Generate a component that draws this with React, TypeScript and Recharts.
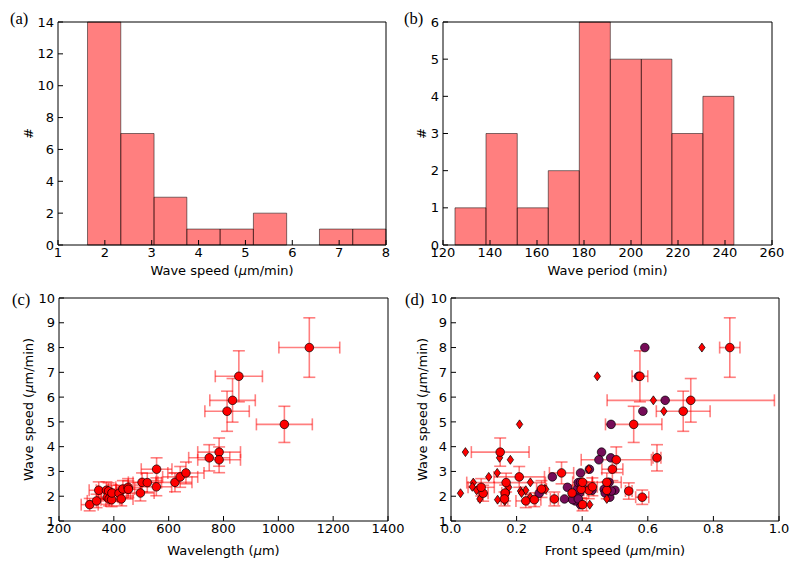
import { ComposedChart, Scatter, XAxis, YAxis, ReferenceArea, ErrorBar } from "recharts";

// (a) histogram of wave speed
const speedEdges = [1.63, 2.34, 3.05, 3.75, 4.46, 5.17, 5.88, 6.58, 7.29, 8.0];
const speedCounts = [14, 7, 3, 1, 1, 2, 0, 1, 1];
const speedHistTicksX = [1, 2, 3, 4, 5, 6, 7, 8];
const speedHistTicksY = [0, 2, 4, 6, 8, 10, 12, 14];

// (b) histogram of wave period
const periodEdges = [125.1, 138.3, 151.6, 164.8, 178.0, 191.2, 204.4, 217.4, 230.6, 243.8];
const periodCounts = [1, 3, 1, 2, 6, 5, 5, 3, 4];
const periodTicksX = [120, 140, 160, 180, 200, 220, 240, 260];
const periodTicksY = [0, 1, 2, 3, 4, 5, 6];

// (c) / (d) one entry per wave
const wavelength = [312, 337, 345, 373, 376, 381, 383, 392, 393, 419, 427, 433, 452, 453, 497, 503, 522, 555, 556, 623, 642, 663, 748, 784, 784, 813, 833, 856, 1022, 1113];
const wavelengthErr = [31, 34, 35, 37, 38, 38, 38, 39, 39, 42, 43, 43, 45, 45, 50, 50, 52, 56, 56, 62, 64, 66, 75, 78, 78, 81, 83, 86, 102, 111];
const waveSpeed = [1.66, 1.81, 2.24, 2.24, 1.96, 2.21, 1.89, 1.86, 2.13, 2.12, 1.89, 2.29, 2.36, 2.28, 2.13, 2.56, 2.55, 2.38, 3.09, 2.56, 2.78, 2.94, 3.55, 3.78, 3.47, 5.43, 5.87, 6.84, 4.9, 8.0];
const waveSpeedErr = [0.25, 0.27, 0.34, 0.34, 0.29, 0.33, 0.28, 0.28, 0.32, 0.32, 0.28, 0.34, 0.35, 0.34, 0.32, 0.38, 0.38, 0.36, 0.46, 0.38, 0.42, 0.44, 0.53, 0.57, 0.52, 0.81, 0.88, 1.03, 0.73, 1.2];
const frontSpeed = [0.401, 0.228, 0.42, 0.475, 0.583, 0.542, 0.315, 0.254, 0.165, 0.098, 0.163, 0.276, 0.092, 0.397, 0.369, 0.401, 0.168, 0.431, 0.492, 0.475, 0.208, 0.337, 0.628, 0.15, 0.504, 0.708, 0.731, 0.576, 0.557, 0.85];
const frontSpeedErr = [0.012, 0.03, 0.015, 0.01, 0.02, 0.01, 0.012, 0.02, 0.01, 0.015, 0.01, 0.015, 0.04, 0.02, 0.01, 0.03, 0.12, 0.015, 0.032, 0.044, 0.077, 0.037, 0.012, 0.088, 0.107, 0.082, 0.255, 0.024, 0.086, 0.031];
const frontSpeedDiamond = [0.423, 0.164, 0.078, 0.228, 0.242, 0.212, 0.088, 0.142, 0.17, 0.029, 0.475, 0.285, 0.176, 0.289, 0.215, 0.242, 0.068, 0.065, 0.42, 0.48, 0.115, 0.141, 0.148, 0.044, 0.181, 0.649, 0.617, 0.446, 0.209, 0.765];
const frontSpeedPurple = [0.395, 0.379, 0.43, 0.5, 0.484, 0.489, 0.346, 0.371, 0.392, 0.269, 0.388, 0.385, 0.355, 0.467, 0.47, 0.482, 0.388, 0.4, 0.422, 0.395, 0.309, 0.395, 0.487, 0.459, 0.451, 0.585, 0.653, 0.572, 0.488, 0.591];
const wavelengthTicks = [200, 400, 600, 800, 1000, 1200, 1400];
const speedTicks = [1, 2, 3, 4, 5, 6, 7, 8, 9, 10];
const frontTicks = [0, 0.2, 0.4, 0.6, 0.8, 1.0];

const tickFont = { fontSize: 13, fontFamily: "DejaVu Sans", fill: "#000" };
const titleFont = { fontSize: 13, fontFamily: "DejaVu Sans", fill: "#000" };
const letterFont = { fontSize: 16.5, fontFamily: "Liberation Serif", fill: "#000" };

const pointsC = wavelength.map((x, i) => ({ x, y: waveSpeed[i], ex: wavelengthErr[i], ey: waveSpeedErr[i] }));
const pointsD = frontSpeed.map((x, i) => ({ x, y: waveSpeed[i], ex: frontSpeedErr[i], ey: waveSpeedErr[i] }));
const diamondsD = frontSpeedDiamond.map((x, i) => ({ x, y: waveSpeed[i] }));
const purplesD = frontSpeedPurple.map((x, i) => ({ x, y: waveSpeed[i] }));

const RedDot = (p: any) => <circle cx={p.cx} cy={p.cy} r={4.3} fill="#ff0000" stroke="#000" strokeWidth={0.7} />;
const PurpleDot = (p: any) => <circle cx={p.cx} cy={p.cy} r={4.3} fill="#760c58" stroke="#000" strokeWidth={0.7} />;
const Diamond = (p: any) => (
  <path
    d={`M${p.cx},${p.cy - 4.5}L${p.cx + 3.2},${p.cy}L${p.cx},${p.cy + 4.5}L${p.cx - 3.2},${p.cy}Z`}
    fill="#ff0000"
    stroke="#000"
    strokeWidth={0.7}
  />
);
const Nothing = () => null;

function frameAxes(xDomain: number[], xTicks: number[], yDomain: number[], yTicks: number[], xHeight: number, fmt?: (v: number) => string) {
  const common = { type: "number" as const, tickSize: -5, stroke: "#000", interval: 0 as const, allowDataOverflow: true };
  return [
    <XAxis key="xb" {...common} dataKey="x" domain={xDomain} ticks={xTicks} height={xHeight} tickMargin={8} tick={tickFont} tickFormatter={fmt} />,
    <XAxis key="xt" {...common} xAxisId="top" orientation="top" domain={xDomain} ticks={xTicks} height={1} tick={false} />,
    <YAxis key="yl" {...common} dataKey="y" domain={yDomain} ticks={yTicks} width={40} tickMargin={9} tick={tickFont} />,
    <YAxis key="yr" {...common} yAxisId="right" orientation="right" domain={yDomain} ticks={yTicks} width={1} tick={false} />,
  ];
}

function Histogram({ edges, counts, xTicks, yTicks, margin }: any) {
  const bins = counts.map((c: number, i: number) => ({ x: (edges[i] + edges[i + 1]) / 2, y: c, x1: edges[i], x2: edges[i + 1] }));
  return (
    <ComposedChart width={400} height={284} margin={margin}>
      {frameAxes([xTicks[0], xTicks[xTicks.length - 1]], xTicks, [yTicks[0], yTicks[yTicks.length - 1]], yTicks, 39)}
      {bins
        .filter((b: any) => b.y > 0)
        .map((b: any, i: number) => (
          <ReferenceArea key={i} x1={b.x1} x2={b.x2} y1={0} y2={b.y} fill="#ff0000" fillOpacity={0.5} stroke="#000" strokeOpacity={0.5} strokeWidth={1} />
        ))}
      <Scatter data={bins} shape={Nothing} isAnimationActive={false} />
    </ComposedChart>
  );
}

const errProps = { stroke: "#ff0000", strokeOpacity: 0.5, strokeWidth: 1.6, width: 6, isAnimationActive: false };

export default function App() {
  return (
    <div style={{ position: "absolute", left: 0, top: 0, width: 800, height: 568, background: "#fff", fontFamily: "DejaVu Sans" }}>
      <style>{`.recharts-surface{overflow:visible}`}</style>
      <div style={{ position: "absolute", left: 0, top: 0 }}>
        <Histogram edges={speedEdges} counts={speedCounts} xTicks={speedHistTicksX} yTicks={speedHistTicksY} margin={{ top: 21, right: 13, bottom: 0, left: 18 }} />
      </div>
      <div style={{ position: "absolute", left: 400, top: 0 }}>
        <Histogram edges={periodEdges} counts={periodCounts} xTicks={periodTicksX} yTicks={periodTicksY} margin={{ top: 21, right: 27, bottom: 0, left: 3 }} />
      </div>
      <div style={{ position: "absolute", left: 0, top: 284 }}>
        <ComposedChart width={400} height={284} margin={{ top: 13, right: 11, bottom: 0, left: 19 }}>
          {frameAxes([200, 1400], wavelengthTicks, [1, 10], speedTicks, 47)}
          <Scatter data={pointsC} shape={RedDot} isAnimationActive={false}>
            <ErrorBar dataKey="ex" direction="x" {...errProps} />
            <ErrorBar dataKey="ey" direction="y" {...errProps} />
          </Scatter>
        </ComposedChart>
      </div>
      <div style={{ position: "absolute", left: 400, top: 284 }}>
        <ComposedChart width={400} height={284} margin={{ top: 13, right: 20, bottom: 0, left: 11 }}>
          {frameAxes([0, 1], frontTicks, [1, 10], speedTicks, 47, (v: number) => v.toFixed(1))}
          <Scatter data={purplesD} shape={PurpleDot} isAnimationActive={false} />
          <Scatter data={diamondsD} shape={Diamond} isAnimationActive={false} />
          <Scatter data={pointsD} shape={RedDot} isAnimationActive={false}>
            <ErrorBar dataKey="ex" direction="x" {...errProps} />
            <ErrorBar dataKey="ey" direction="y" {...errProps} />
          </Scatter>
        </ComposedChart>
      </div>
      <svg width={800} height={568} style={{ position: "absolute", left: 0, top: 0, pointerEvents: "none" }}>
        <text x={10} y={24} {...letterFont}>(a)</text>
        <text x={404} y={24} {...letterFont}>(b)</text>
        <text x={12} y={305} {...letterFont}>(c)</text>
        <text x={405} y={305} {...letterFont}>(d)</text>
        <text x={222} y={275} textAnchor="middle" {...titleFont}>
          Wave speed (<tspan fontStyle="italic">μ</tspan>m/min)
        </text>
        <text x={607.5} y={275} textAnchor="middle" {...titleFont}>Wave period (min)</text>
        <text x={223.5} y={555} textAnchor="middle" {...titleFont}>
          Wavelength (<tspan fontStyle="italic">μ</tspan>m)
        </text>
        <text x={615} y={555} textAnchor="middle" {...titleFont}>
          Front speed (<tspan fontStyle="italic">μ</tspan>m/min)
        </text>
        <text transform="translate(33,133.5) rotate(-90)" textAnchor="middle" {...titleFont}>#</text>
        <text transform="translate(426,133.5) rotate(-90)" textAnchor="middle" {...titleFont}>#</text>
        <text transform="translate(33,409.5) rotate(-90)" textAnchor="middle" {...titleFont}>
          Wave speed (<tspan fontStyle="italic">μ</tspan>m/min)
        </text>
        <text transform="translate(426.5,409.5) rotate(-90)" textAnchor="middle" {...titleFont}>
          Wave speed (<tspan fontStyle="italic">μ</tspan>m/min)
        </text>
      </svg>
    </div>
  );
}
